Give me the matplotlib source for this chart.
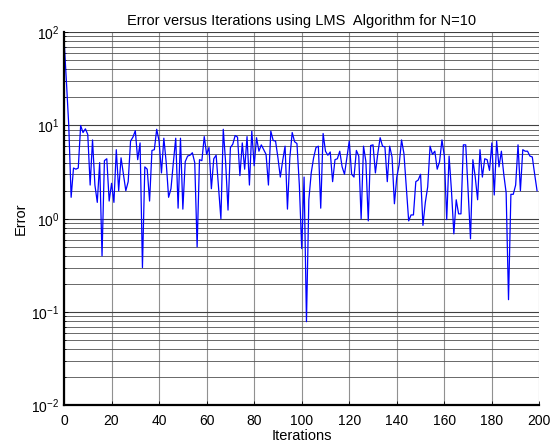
#!/usr/bin/env python3
# -*- coding: utf-8 -*-
"""
Error versus iterations of the LMS algorithm on a log scale.
"""

import matplotlib
matplotlib.use('Agg')
import matplotlib.pyplot as plt
import numpy as np

plt.rcParams['font.family'] = ['Liberation Sans', 'DejaVu Sans']
plt.rcParams['mathtext.fontset'] = 'custom'
plt.rcParams['mathtext.rm'] = 'Liberation Sans'
plt.rcParams['mathtext.default'] = 'regular'

title = 'Error versus Iterations using LMS  Algorithm for N=10'
x_ticks = [0, 20, 40, 60, 80, 100, 120, 140, 160, 180, 200]
y_ticks = [1e-2, 1e-1, 1e0, 1e1, 1e2]
y_tick_labels = ['$10^{-2}$', '$10^{-1}$', '$10^{0}$', '$10^{1}$', '$10^{2}$']

error = [
    85, 30, 10, 1.7, 3.5, 3.4, 3.5, 10, 8.4, 9.2,
    8, 2.3, 7, 2.3, 1.5, 4, 0.4, 4.2, 4.4, 1.55,
    2.4, 1.5, 5.5, 2, 4.5, 3, 2, 2.5, 6.8, 7.5,
    8.8, 4.3, 6.5, 0.3, 3.6, 3.4, 1.55, 5.4, 5.5, 9.1,
    6.8, 3.1, 7.3, 4.0, 1.7, 2.1, 4.0, 7.3, 1.3, 7.3,
    1.27, 4.1, 4.7, 4.8, 5.1, 4.0, 0.5, 4.3, 4.2, 7.6,
    4.9, 5.8, 2.1, 4.4, 4.8, 2.2, 1.0, 9.1, 4.0, 1.24,
    5.8, 6.3, 7.8, 7.5, 2.9, 6.5, 3.4, 7.6, 2.3, 8.7,
    3.7, 7.4, 5.3, 6.2, 5.5, 4.9, 2.3, 8.7, 6.9, 6.8,
    4.5, 2.8, 4.2, 6.0, 1.27, 4.5, 8.4, 6.7, 6.4, 2.3,
    0.48, 2.8, 0.079, 1.6, 3.1, 4.5, 5.8, 6.0, 1.3, 8.2,
    5.3, 4.8, 5.2, 2.5, 4.3, 4.4, 5.3, 3.6, 3.0, 4.5,
    6.8, 3.0, 2.8, 5.4, 4.7, 1.0, 6.0, 4.1, 0.95, 6.1,
    6.2, 3.1, 5.0, 7.4, 6.0, 5.9, 2.5, 6.0, 4.6, 1.45,
    2.8, 3.8, 7.0, 5.0, 2.2, 0.95, 1.1, 1.1, 2.5, 2.6,
    3.0, 0.85, 1.5, 2.2, 6.0, 4.9, 5.3, 3.4, 4.1, 7.0,
    4.7, 0.98, 4.7, 2.0, 0.69, 1.6, 1.13, 1.13, 6.2, 6.2,
    2.0, 0.61, 4.3, 2.8, 1.6, 5.5, 2.8, 4.4, 4.3, 3.3,
    6.5, 1.8, 6.8, 3.6, 5.3, 3.0, 1.9, 0.136, 1.83, 1.83,
    2.3, 6.2, 2.0, 5.5, 5.3, 5.3, 4.7, 4.6, 3.0, 2.0,
]
iterations = np.arange(len(error))

figure = plt.figure(figsize=(5.58, 4.45), dpi=100)
axes = figure.add_axes([0.1147, 0.0888, 0.852, 0.839])

axes.semilogy(iterations, error, color='#0000ff', linewidth=0.9)

axes.set_xlim(0, 200)
axes.set_ylim(1e-2, 1e2)
axes.set_xticks(x_ticks)
axes.set_yticks(y_ticks)
axes.set_yticklabels(y_tick_labels)

axes.grid(True, which='major', axis='x', color='#909090', linewidth=0.8)
axes.grid(True, which='major', axis='y', color='#404040', linewidth=0.8)
axes.grid(True, which='minor', axis='y', color='#505050', linewidth=0.6)

for side in ['top', 'right']:
    axes.spines[side].set_visible(False)
for side in ['left', 'bottom']:
    axes.spines[side].set_linewidth(1.6)

axes.tick_params(axis='both', which='both', direction='in', labelsize=10,
                 length=3, width=0.6)
axes.tick_params(axis='y', which='minor', length=1.5)
axes.tick_params(axis='x', pad=6)

axes.set_title(title, fontsize=10.5, pad=5)
axes.set_xlabel('Iterations', fontsize=10.5, labelpad=1)
axes.set_ylabel('Error', fontsize=10.5, labelpad=2)

figure.savefig('out.png', dpi=100)
plt.close(figure)
